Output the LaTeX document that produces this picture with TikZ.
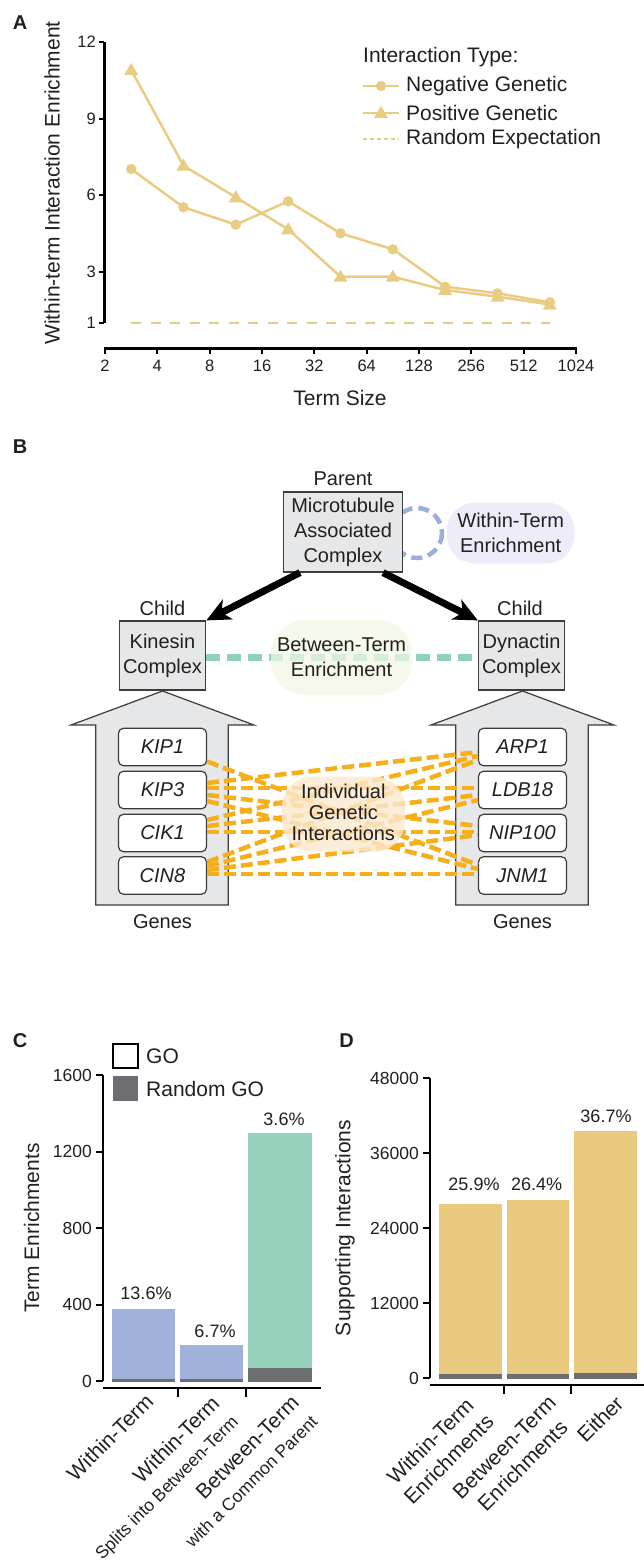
\documentclass[tikz,border=0pt]{standalone}
\usepackage{fontspec}
\setmainfont{Liberation Sans}
\usetikzlibrary{arrows.meta}
\definecolor{gold}{RGB}{234,203,130}
\definecolor{barGold}{RGB}{232,201,126}
\definecolor{barBlue}{RGB}{160,177,219}
\definecolor{barTeal}{RGB}{151,210,189}
\definecolor{rndGray}{RGB}{109,110,113}
\definecolor{boxFill}{RGB}{230,231,232}
\definecolor{boxLine}{RGB}{60,60,60}
\definecolor{loopBlue}{RGB}{157,174,219}
\definecolor{withinBub}{RGB}{236,237,248}
\definecolor{betweenLine}{RGB}{143,209,188}
\definecolor{betweenBub}{RGB}{241,247,228}
\definecolor{linkOrange}{RGB}{246,174,27}
\definecolor{indivBub}{RGB}{252,233,208}
\definecolor{txt}{RGB}{35,31,32}
\newcommand\fsBig{\fontsize{21}{26}\selectfont}
\newcommand\fsB{\fontsize{20}{25}\selectfont}
\newcommand\fsTickA{\fontsize{16.5}{20}\selectfont}
\newcommand\fsTick{\fontsize{17.5}{21}\selectfont}
\newcommand\fsPct{\fontsize{18}{21}\selectfont}
\newcommand\fsSmall{\fontsize{17.5}{21}\selectfont}
\newcommand\fsLetter{\fontsize{20}{24}\selectfont\bfseries}
\tikzset{
  letter/.style={font=\fsLetter, text=txt, inner sep=0pt},
  axisline/.style={line width=3pt, draw=black},
  tickline/.style={line width=2pt, draw=black},
  ticklab/.style={font=\fsTickA, text=txt, inner sep=0pt},
  ticklabc/.style={font=\fsTick, text=txt, inner sep=0pt},
  biglab/.style={font=\fsBig, text=txt, inner sep=0pt},
  goldline/.style={draw=gold, line width=2.5pt, line join=round},
  gbox/.style={draw=boxLine, fill=boxFill, line width=1.2pt, align=center, font=\fsB, text=txt, inner sep=0pt},
  blab/.style={font=\fsB, text=txt, inner sep=0pt, align=center},
  genebox/.style={draw=boxLine, fill=white, rounded corners=5pt, line width=1.2pt,
    minimum width=88pt, minimum height=37.5pt, font=\fsB\itshape, text=txt, inner sep=0pt},
  genelink/.style={draw=linkOrange, line width=4.5pt, dash pattern=on 12pt off 5pt},
  parentarrow/.style={draw=black, line width=7pt, -{Stealth[length=24pt,width=22pt,inset=7pt]}},
  bigarrow/.style={draw=boxLine, fill=boxFill, line width=1.2pt, line join=miter},
  pct/.style={font=\fsPct, text=txt, inner sep=0pt},
  xrot/.style={font=\fsBig, text=txt, inner sep=0pt, rotate=45, anchor=north east},
}
\begin{document}
\begin{tikzpicture}[x=1pt,y=-1pt]
\useasboundingbox[fill=white] (0,0) rectangle (644,1565);

%================ Panel A ================
\node[letter] (labA) at (20,23) {A};
\draw[axisline] (104,42) -- (104,323);
\foreach \v/\y in {12/42,9/118.6,6/195.3,3/271.9,1/323} {
  \draw[tickline] (99,\y) -- (104,\y);
  \node[ticklab, anchor=east] (ya\v) at (96,\y) {\v};
}
\draw[axisline] (104,348) -- (577,348);
\foreach \x/\t in {105/2,157.3/4,209.7/8,262/16,314.3/32,366.7/64,419/128,471.3/256,523.7/512,576/1024} {
  \draw[tickline] (\x,348) -- (\x,354);
  \node[ticklab] (xa\t) at (\x,366) {\t};
}
\node[biglab, rotate=90] (ylabA) at (52,183) {Within-term Interaction Enrichment};
\node[biglab] (xlabA) at (340,398) {Term Size};

\draw[gold, line width=2pt, dash pattern=on 10pt off 9.5pt] (131.2,323) -- (549.8,323);
\draw[goldline] plot coordinates {(131.2,169) (183.5,207.3) (235.8,224.7) (288.2,201.3) (340.5,233.3) (392.8,249.3) (445.2,286.7) (497.5,293.3) (549.8,302.3)};
\draw[goldline] plot coordinates {(131.2,70) (183.5,165.7) (235.8,197.3) (288.2,229.3) (340.5,276.7) (392.8,276.7) (445.2,290) (497.5,296.7) (549.8,304.5)};
\foreach \x/\y in {131.2/169,183.5/207.3,235.8/224.7,288.2/201.3,340.5/233.3,392.8/249.3,445.2/286.7,497.5/293.3,549.8/302.3}
  \fill[gold] (\x,\y) circle (5.2);
\foreach \x/\y in {131.2/70,183.5/165.7,235.8/197.3,288.2/229.3,340.5/276.7,392.8/276.7,445.2/290,497.5/296.7,549.8/304.5}
  \fill[gold] (\x,{\y-7}) -- ({\x+7},{\y+5}) -- ({\x-7},{\y+5}) -- cycle;

% legend
\node[biglab, anchor=west] (legT) at (363,57) {Interaction Type:};
\draw[goldline] (363,86) -- (399,86);
\fill[gold] (381,86) circle (5.2);
\node[biglab, anchor=west] (legN) at (406,86) {Negative Genetic};
\draw[goldline] (363,113) -- (399,113);
\fill[gold] (381,106) -- (388,118) -- (374,118) -- cycle;
\node[biglab, anchor=west] (legP) at (406,113) {Positive Genetic};
\draw[gold, line width=2pt, dash pattern=on 4pt off 3pt] (363,139) -- (399,139);
\node[biglab, anchor=west] (legR) at (406,139) {Random Expectation};

%================ Panel B ================
\node[letter] (labB) at (20,447) {B};

\draw[loopBlue, line width=4.5pt, dash pattern=on 11pt off 6pt] (417,533) circle (25);
\node[gbox, minimum width=119.4pt, minimum height=80pt] (parent) at (343,532) {Microtubule\\Associated\\Complex};
\node[blab] (parentlbl) at (343,479) {Parent};
\node[blab, fill=withinBub, rounded corners=28pt, minimum width=127.5pt, minimum height=61pt] (within) at (510.7,533) {Within-Term\\Enrichment};

\node[gbox, minimum width=86.4pt, minimum height=69pt] (kinesin) at (162.5,655.5) {Kinesin\\Complex};
\node[gbox, minimum width=86pt, minimum height=69pt] (dynactin) at (521.5,655.5) {Dynactin\\Complex};
\node[blab] (childL) at (162.5,608) {Child};
\node[blab] (childR) at (520,608) {Child};

\draw[parentarrow] ([xshift=-43pt]parent.south) -- (kinesin.north east);
\draw[parentarrow] ([xshift=40pt]parent.south) -- (dynactin.north west);

\draw[betweenLine, line width=6.3pt, dash pattern=on 14pt off 7pt] ([yshift=-2pt]kinesin.east) -- ([yshift=-2pt]dynactin.west);
\node[blab, fill=betweenBub, fill opacity=0.72, text opacity=1, rounded corners=34pt, minimum width=141pt, minimum height=75pt] (between) at (341.5,657.5) {Between-Term\\Enrichment};

% big gray arrows
\draw[bigarrow] (95.7,905) -- (95.7,725) -- (71,725) -- (162.5,691) -- (254,725) -- (228.3,725) -- (228.3,905) -- cycle;
\draw[bigarrow] (455.7,905) -- (455.7,725) -- (431,725) -- (522.5,691) -- (614,725) -- (588.3,725) -- (588.3,905) -- cycle;

\node[genebox] (k1) at (162.5,747) {KIP1};
\node[genebox] (k3) at (162.5,790) {KIP3};
\node[genebox] (c1) at (162.5,833) {CIK1};
\node[genebox] (c8) at (162.5,875.5) {CIN8};
\node[genebox] (a1) at (522.5,747) {ARP1};
\node[genebox] (l18) at (522.5,790) {LDB18};
\node[genebox] (n100) at (522.5,833) {NIP100};
\node[genebox] (j1) at (522.5,875.5) {JNM1};

\draw[genelink] ([yshift=-14.5pt]k1.east) -- ([yshift=10.5pt]j1.west);
\draw[genelink] ([yshift=7pt]k3.east) -- ([yshift=-5pt]a1.west);
\draw[genelink] ([yshift=2pt]k3.east) -- ([yshift=2pt]l18.west);
\draw[genelink] ([yshift=-5pt]k3.east) -- ([yshift=7pt]n100.west);
\draw[genelink] ([yshift=-11pt]k3.east) -- ([yshift=6.5pt]j1.west);
\draw[genelink] ([yshift=13pt]c1.east) -- ([yshift=-9pt]a1.west);
\draw[genelink] ([yshift=7pt]c1.east) -- ([yshift=-5pt]l18.west);
\draw[genelink] ([yshift=1pt]c1.east) -- ([yshift=1pt]n100.west);
\draw[genelink] ([yshift=13.5pt]c8.east) -- ([yshift=-13pt]a1.west);
\draw[genelink] ([yshift=9.5pt]c8.east) -- ([yshift=-10pt]l18.west);
\draw[genelink] ([yshift=5.5pt]c8.east) -- ([yshift=-2pt]n100.west);
\draw[genelink] ([yshift=1.5pt]c8.east) -- ([yshift=1.5pt]j1.west);

\node[fill=indivBub, fill opacity=0.8, text opacity=1, rounded corners=30pt, minimum width=123pt, minimum height=75pt, inner sep=0pt] (indiv) at (343.3,814.2) {};
\node[font=\fontsize{20}{21}\selectfont, text=txt, align=center, inner sep=0pt] (indivtxt) at (343.3,812.5) {Individual\\Genetic\\Interactions};

\node[blab] (genesL) at (162.5,922) {Genes};
\node[blab] (genesR) at (522.5,922) {Genes};

%================ Panel C ================
\node[letter] (labC) at (20,1041) {C};
\draw[black, line width=1.6pt, fill=white] (113,1044) rectangle (138,1068);
\node[biglab, anchor=west] (legGO) at (146,1056) {GO};
\fill[rndGray] (113,1076) rectangle (138,1101);
\node[biglab, anchor=west] (legRGO) at (146,1089) {Random GO};

\draw[axisline, line width=2.8pt] (103,1075) -- (103,1381);
\foreach \v/\y in {1600/1075,1200/1151.5,800/1228,400/1304.5,0/1381} {
  \draw[tickline] (96,\y) -- (103,\y);
  \node[ticklabc, anchor=east] (yc\v) at (92,\y) {\v};
}
\draw[axisline, line width=2.8pt] (103,1388) -- (321,1388);
\draw[tickline] (177.5,1388) -- (177.5,1397);
\draw[tickline] (245.5,1388) -- (245.5,1397);

\fill[barBlue] (111.7,1309) rectangle (175,1381.6);
\fill[rndGray] (111.7,1378.5) rectangle (175,1381.6);
\fill[barBlue] (180,1345) rectangle (243.3,1381.6);
\fill[rndGray] (180,1378.8) rectangle (243.3,1381.6);
\fill[barTeal] (248.3,1133) rectangle (311.7,1381.6);
\fill[rndGray] (248.3,1368.4) rectangle (311.7,1381.6);

\node[pct] (pc1) at (146,1293.6) {13.6\%};
\node[pct] (pc2) at (215,1331) {6.7\%};
\node[pct] (pc3) at (284,1119) {3.6\%};

\node[biglab, rotate=90] (ylabC) at (31.7,1228) {Term Enrichments};
\node[xrot, align=right] (xc1) at (144,1392) {Within-Term};
\node[xrot, align=right] (xc2) at (210,1394) {Within-Term\\{\fsSmall Splits into Between-Term}};
\node[xrot, align=right] (xc3) at (290,1394) {Between-Term\\{\fsSmall with a Common Parent}};

%================ Panel D ================
\node[letter] (labD) at (346.7,1041) {D};
\draw[axisline, line width=2.8pt] (430,1078) -- (430,1378);
\foreach \v/\y in {48000/1078,36000/1153,24000/1228,12000/1303,0/1378} {
  \draw[tickline] (423,\y) -- (430,\y);
  \node[ticklabc, anchor=east] (yd\v) at (419,\y) {\v};
}
\draw[axisline, line width=2.8pt] (430,1385) -- (643.5,1385);
\draw[tickline] (504.3,1385) -- (504.3,1394);
\draw[tickline] (571,1385) -- (571,1394);

\fill[barGold] (439.3,1203.8) rectangle (502,1379);
\fill[rndGray] (439.3,1374.3) rectangle (502,1379);
\fill[barGold] (506.7,1200) rectangle (569.3,1379);
\fill[rndGray] (506.7,1374.3) rectangle (569.3,1379);
\fill[barGold] (574,1131) rectangle (636.7,1379);
\fill[rndGray] (574,1373.3) rectangle (636.7,1379);

\node[pct] (pd1) at (474,1184) {25.9\%};
\node[pct] (pd2) at (536.7,1184) {26.4\%};
\node[pct] (pd3) at (606,1116.5) {36.7\%};

\node[biglab, rotate=90] (ylabD) at (345,1228) {Supporting Interactions};
\node[xrot, align=center] (xd1) at (466,1394) {Within-Term\\Enrichments};
\node[xrot, align=center] (xd2) at (547,1394) {Between-Term\\Enrichments};
\node[xrot] (xd3) at (614,1394) {Either};
\end{tikzpicture}
\end{document}
